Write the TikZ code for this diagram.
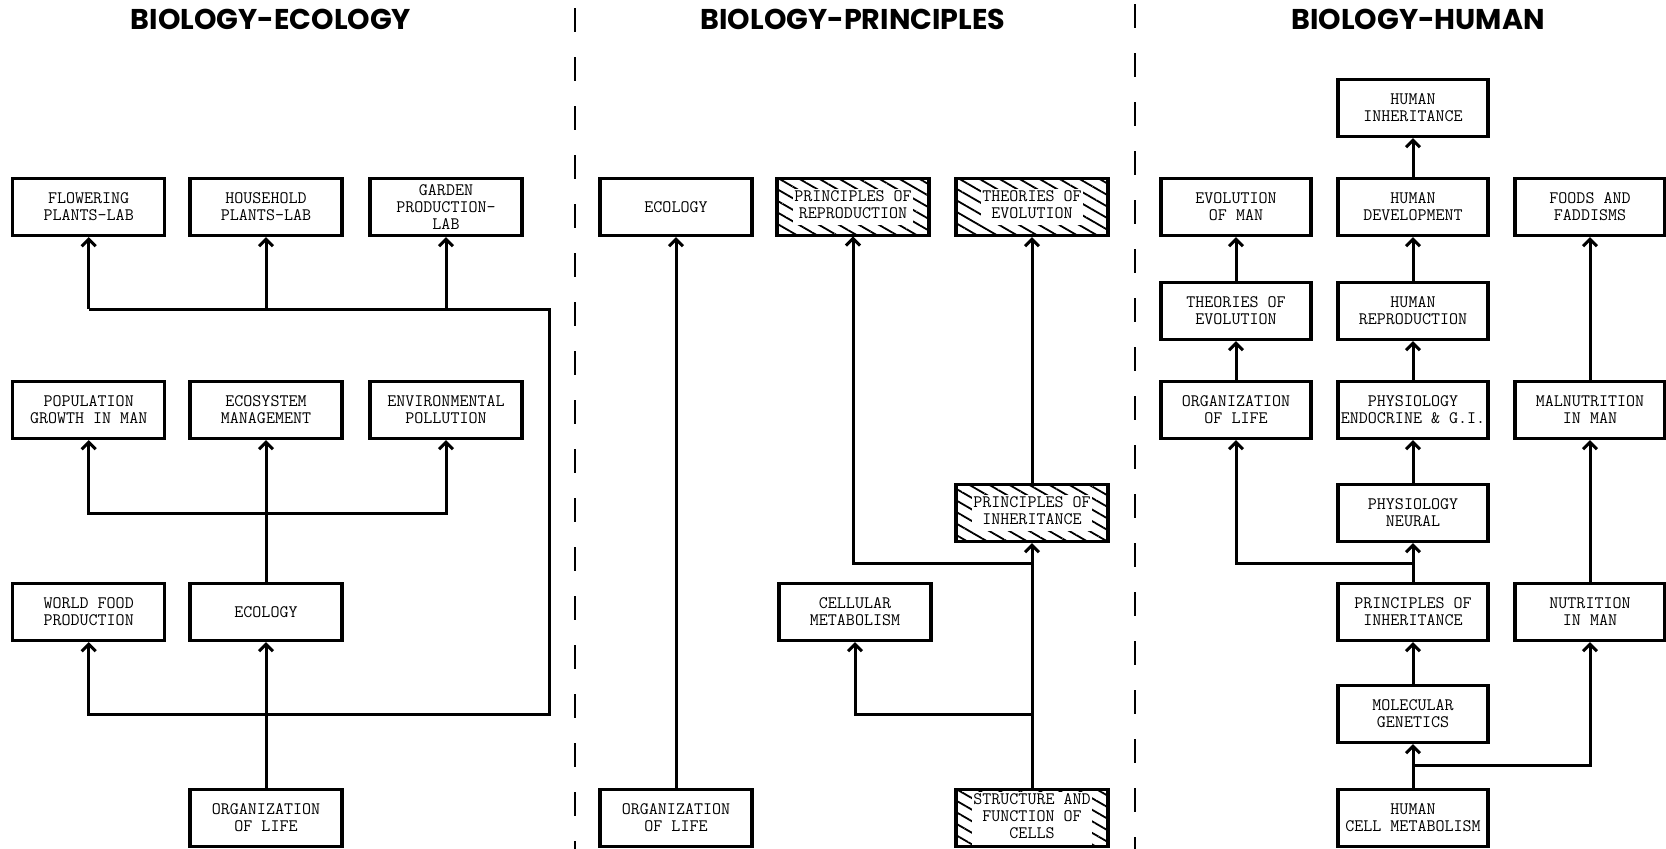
\documentclass[tikz,border=0pt]{standalone}
\usepackage{fontspec}
\newfontfamily\titlefont{Poppins}
\usetikzlibrary{arrows.meta,patterns.meta}
\newcommand{\wbox}[1]{{\setlength{\fboxsep}{1pt}\colorbox{white}{\begin{tabular}{@{}c@{}}#1\end{tabular}}}}
\tikzset{
  box/.style={draw, line width=3.2pt, minimum width=152pt, minimum height=57pt, inner sep=0pt,
    align=center, font=\ttfamily\fontsize{17.5}{17}\selectfont},
  rbox/.style={box, minimum width=150pt},
  hatch/.style={box, pattern={Lines[angle=-30,distance=10pt,line width=1.8pt]}},
  conn/.style={line width=3pt},
  arr/.style={conn, -{Straight Barb[length=7pt,width=14pt,line width=3pt]}},
  sep/.style={line width=1.6pt, dash pattern=on 24pt off 25pt},
  ttl/.style={font=\titlefont\bfseries\fontsize{28.6}{32}\selectfont}
}
\begin{document}
\begin{tikzpicture}[x=1pt,y=-1pt]
\useasboundingbox (0,0) rectangle (1666,849);
% titles
\node[ttl] (t1) at (271,19) {BIOLOGY-ECOLOGY};
\node[ttl] (t2) at (853,19) {BIOLOGY-PRINCIPLES};
\node[ttl] (t3) at (1418,19) {BIOLOGY-HUMAN};
% separators
\coordinate (s1a) at (575,8); \coordinate (s1b) at (575,849);
\coordinate (s2a) at (1135,4); \coordinate (s2b) at (1135,849);
\draw[sep] (s1a) -- (s1b);
\draw[sep] (s2a) -- (s2b);
% helper rows
\coordinate (y309) at (0,309);
\coordinate (y513) at (0,513);
\coordinate (y563) at (0,563);
\coordinate (y714) at (0,714);
\coordinate (y765) at (0,765);
\coordinate (xr) at (549,0);

% ---------- left panel ----------
\node[box] (fpl) at (88.7,207) {FLOWERING\\PLANTS-LAB};
\node[box] (hpl) at (266,207) {HOUSEHOLD\\PLANTS-LAB};
\node[box] (gpl) at (446,207) {GARDEN\\PRODUCTION-\\LAB};
\node[box] (pop) at (88.7,410) {POPULATION\\GROWTH IN MAN};
\node[box] (esm) at (266,410) {ECOSYSTEM\\MANAGEMENT};
\node[box] (env) at (446,410) {ENVIRONMENTAL\\POLLUTION};
\node[box] (wfp) at (88.7,612) {WORLD FOOD\\PRODUCTION};
\node[box] (ec1) at (266,612) {ECOLOGY};
\node[box] (ol1) at (266,818) {ORGANIZATION\\OF LIFE};

\draw[arr] (ol1) -- (ec1);
\coordinate (j1) at (ol1.north |- y714);
\draw[arr] (j1) -| (wfp.south);
\coordinate (jr) at (xr |- y309);
\draw[conn] (j1) -| (jr) -- (fpl.south |- y309);
\draw[arr] (fpl.south |- y309) -- (fpl.south);
\draw[arr] (hpl.south |- y309) -- (hpl.south);
\draw[arr] (gpl.south |- y309) -- (gpl.south);
\draw[arr] (ec1) -- (esm);
\coordinate (j2) at (ec1.north |- y513);
\draw[arr] (j2) -| (pop.south);
\draw[arr] (j2) -| (env.south);

% ---------- middle panel ----------
\node[box] (ec2) at (676,207) {ECOLOGY};
\node[hatch] (por) at (853,207) {\wbox{PRINCIPLES OF\\REPRODUCTION}};
\node[hatch] (toe) at (1032,207) {\wbox{THEORIES OF\\EVOLUTION}};
\node[hatch] (poi) at (1032,513) {\wbox{PRINCIPLES OF\\INHERITANCE}};
\node[box] (cem) at (855,612) {CELLULAR\\METABOLISM};
\node[box] (ol2) at (676,818) {ORGANIZATION\\OF LIFE};
\node[hatch] (sfc) at (1032,818) {\wbox{STRUCTURE AND\\FUNCTION OF\\CELLS}};

\draw[arr] (ol2) -- (ec2);
\draw[arr] (sfc) -- (poi);
\draw[arr] (poi) -- (toe);
\draw[arr] (sfc.north |- y714) -| (cem.south);
\draw[arr] (poi.south |- y563) -| (por.south);

% ---------- right panel ----------
\node[rbox] (hin) at (1413,108) {HUMAN\\INHERITANCE};
\node[rbox] (eom) at (1236,207) {EVOLUTION\\OF MAN};
\node[rbox] (hde) at (1413,207) {HUMAN\\DEVELOPMENT};
\node[rbox] (faf) at (1590,207) {FOODS AND\\FADDISMS};
\node[rbox] (te2) at (1236,311) {THEORIES OF\\EVOLUTION};
\node[rbox] (hre) at (1413,311) {HUMAN\\REPRODUCTION};
\node[rbox] (ol3) at (1236,410) {ORGANIZATION\\OF LIFE};
\node[rbox] (pen) at (1413,410) {PHYSIOLOGY\\ENDOCRINE \& G.I.};
\node[rbox] (mal) at (1590,410) {MALNUTRITION\\IN MAN};
\node[rbox] (pne) at (1413,513) {PHYSIOLOGY\\NEURAL};
\node[rbox] (pih) at (1413,612) {PRINCIPLES OF\\INHERITANCE};
\node[rbox] (nim) at (1590,612) {NUTRITION\\IN MAN};
\node[rbox] (mge) at (1413,714) {MOLECULAR\\GENETICS};
\node[rbox] (hcm) at (1413,818) {HUMAN\\CELL METABOLISM};

\draw[arr] (hcm) -- (mge);
\draw[arr] (hcm.north |- y765) -| (nim.south);
\draw[arr] (mge) -- (pih);
\draw[arr] (pih) -- (pne);
\draw[arr] (pih.north |- y563) -| (ol3.south);
\draw[arr] (pne) -- (pen);
\draw[arr] (pen) -- (hre);
\draw[arr] (hre) -- (hde);
\draw[arr] (hde) -- (hin);
\draw[arr] (ol3) -- (te2);
\draw[arr] (te2) -- (eom);
\draw[arr] (nim) -- (mal);
\draw[arr] (mal) -- (faf);
\end{tikzpicture}
\end{document}
